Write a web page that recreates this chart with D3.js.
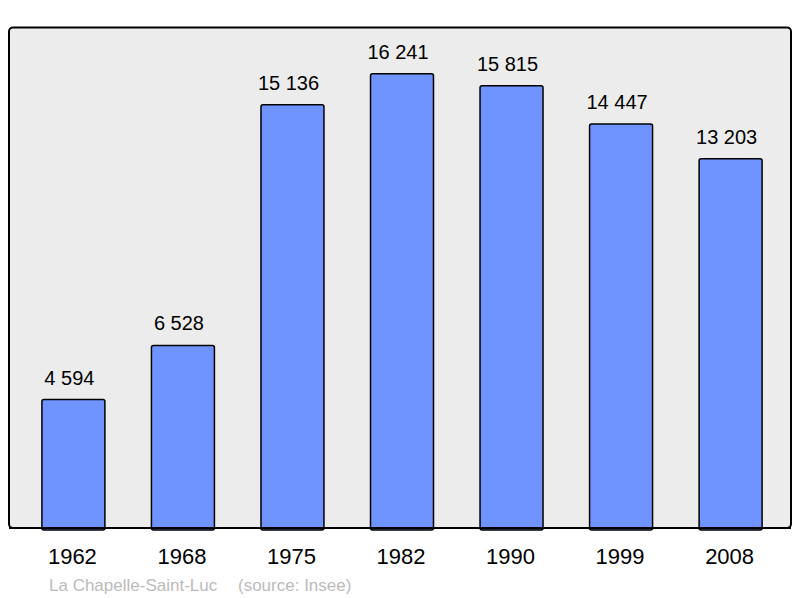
<!DOCTYPE html>
<html>
<head>
<meta charset="utf-8">
<script src="https://cdn.jsdelivr.net/npm/d3@7"></script>
<style>
  body { margin: 0; background: #fff; }
  text { font-family: "Liberation Sans", Arial, sans-serif; }
</style>
</head>
<body>
<svg width="800" height="598"></svg>
<script>
var years = ["1962", "1968", "1975", "1982", "1990", "1999", "2008"];
var population = [4594, 6528, 15136, 16241, 15815, 14447, 13203];
var placeName = "La Chapelle-Saint-Luc";
var sourceText = "(source: Insee)";

var svg = d3.select("svg");

// panel
svg.append("rect")
  .attr("x", 9).attr("y", 27.5)
  .attr("width", 782).attr("height", 500.5)
  .attr("rx", 4)
  .attr("fill", "#ececec")
  .attr("stroke", "#000")
  .attr("stroke-width", 2);

var x = d3.scaleBand()
  .domain(years)
  .range([20, 784])
  .paddingInner(0.425)
  .paddingOuter(0.2);

var y = d3.scaleLinear()
  .domain([0, 18000])
  .range([528, 24.6]);

var fmt = function (v) { return d3.format(",")(v).replace(",", " "); };

svg.selectAll("rect.bar")
  .data(population)
  .enter().append("rect")
  .attr("class", "bar")
  .attr("x", function (d, i) { return x(years[i]); })
  .attr("y", function (d) { return y(d); })
  .attr("width", x.bandwidth())
  .attr("height", function (d) { return y(0) - y(d) + 2; })
  .attr("rx", 2)
  .attr("fill", "#7094ff")
  .attr("stroke", "#000")
  .attr("stroke-width", 1.5);

// redraw bottom edge of panel over bars
svg.append("line")
  .attr("x1", 9).attr("x2", 791)
  .attr("y1", 528).attr("y2", 528)
  .attr("stroke", "#000").attr("stroke-width", 2);

svg.selectAll("text.val")
  .data(population)
  .enter().append("text")
  .attr("class", "val")
  .attr("x", function (d, i) { return x(years[i]) + x.bandwidth() / 2 - 4; })
  .attr("y", function (d) { return y(d) - 15; })
  .attr("text-anchor", "middle")
  .attr("font-size", 20)
  .attr("fill", "#000")
  .text(fmt);

svg.selectAll("text.year")
  .data(years)
  .enter().append("text")
  .attr("class", "year")
  .attr("x", function (d) { return x(d) + x.bandwidth() / 2 - 1; })
  .attr("y", 564)
  .attr("text-anchor", "middle")
  .attr("font-size", 22)
  .attr("fill", "#000")
  .text(function (d) { return d; });

svg.append("text")
  .attr("x", 49).attr("y", 590.5)
  .attr("font-size", 17)
  .attr("fill", "#bbb")
  .text(placeName);

svg.append("text")
  .attr("x", 238).attr("y", 590.5)
  .attr("font-size", 17)
  .attr("fill", "#bbb")
  .text(sourceText);
</script>
</body>
</html>
